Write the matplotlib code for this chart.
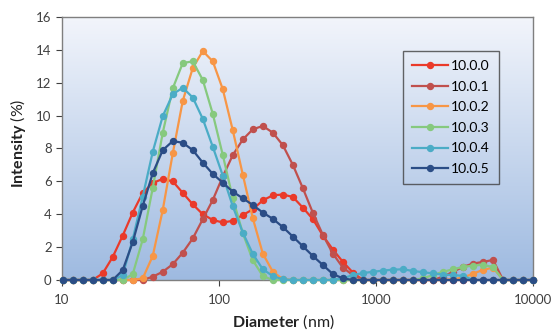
import matplotlib.pyplot as plt
import numpy as np

plt.rcParams['font.family'] = ['Lato', 'DejaVu Sans']
plt.rcParams['mathtext.fontset'] = 'custom'
plt.rcParams['mathtext.rm'] = 'Lato'
plt.rcParams['mathtext.bf'] = 'Lato:bold'

# size bins (nm)
diam = [10.1, 11.7, 13.54, 15.69, 18.17, 21.04, 24.36, 28.21, 32.67, 37.84,
        43.82, 50.75, 58.77, 68.06, 78.82, 91.28, 105.7, 122.4, 141.8, 164.2,
        190.1, 220.2, 255.0, 295.3, 342.0, 396.1, 458.7, 531.2, 615.1, 712.4,
        825.0, 955.4, 1106, 1281, 1484, 1718, 1990, 2305, 2669, 3091,
        3580, 4145, 4801, 5560, 6439, 7456, 8635, 10000]

s0 = [0, 0, 0, 0, 0.4, 1.4, 2.7, 4.1, 5.3, 5.9,
      6.15, 6.0, 5.3, 4.6, 4.0, 3.65, 3.5, 3.6, 3.95, 4.3,
      4.85, 5.15, 5.2, 5.05, 4.4, 3.7, 2.7, 1.85, 1.1, 0.45,
      0, 0, 0, 0, 0, 0, 0, 0, 0, 0,
      0, 0, 0, 0, 0, 0, 0, 0]
s1 = [0, 0, 0, 0, 0, 0, 0, 0, 0, 0.2,
      0.5, 0.96, 1.66, 2.53, 3.7, 4.87, 6.3, 7.6, 8.55, 9.17,
      9.37, 8.96, 8.2, 7.0, 5.58, 4.08, 2.74, 1.6, 0.75, 0.3,
      0, 0, 0, 0, 0, 0, 0, 0, 0.2, 0.5,
      0.8, 1.0, 1.1, 1.22, 0, 0, 0, 0]
s2 = [0, 0, 0, 0, 0, 0, 0, 0, 0.1, 1.46,
      4.26, 7.7, 10.9, 12.9, 13.93, 13.3, 11.6, 9.1, 6.4, 3.75,
      1.6, 0.5, 0.05, 0, 0, 0, 0, 0, 0, 0,
      0, 0, 0, 0, 0, 0, 0, 0, 0, 0.05,
      0.15, 0.38, 0.62, 0.75, 0, 0, 0, 0]
s3 = [0, 0, 0, 0, 0, 0, 0, 0.35, 2.47, 5.6,
      8.96, 11.66, 13.2, 13.3, 12.17, 10.1, 7.6, 4.97, 2.84, 1.2,
      0.24, 0, 0, 0, 0, 0, 0, 0, 0, 0,
      0, 0, 0, 0, 0, 0, 0.1, 0.3, 0.5, 0.65,
      0.8, 0.87, 0.93, 0.78, 0, 0, 0, 0]
s4 = [0, 0, 0, 0, 0, 0, 0.3, 2.47, 5.07, 7.8,
      9.97, 11.3, 11.7, 11.1, 9.8, 8.1, 6.35, 4.48, 2.88, 1.58,
      0.65, 0.24, 0.04, 0, 0, 0, 0, 0, 0.1, 0.3,
      0.42, 0.5, 0.57, 0.63, 0.65, 0.55, 0.47, 0.4, 0.33, 0.3,
      0.25, 0, 0, 0, 0, 0, 0, 0]
s5 = [0, 0, 0, 0, 0, 0, 0.6, 2.3, 4.5, 6.5,
      7.9, 8.45, 8.35, 7.9, 7.14, 6.45, 5.92, 5.37, 4.97, 4.56,
      4.1, 3.72, 3.22, 2.64, 2.05, 1.46, 0.91, 0.36, 0.1, 0,
      0, 0, 0, 0, 0, 0, 0, 0, 0, 0,
      0, 0, 0, 0, 0, 0, 0, 0]

labels = ['10.0.0', '10.0.1', '10.0.2', '10.0.3', '10.0.4', '10.0.5']
colors = ['#ea3a2a', '#c0504d', '#f79646', '#86c97e', '#4bacc6', '#2b4d86']

fig = plt.figure(figsize=(5.51, 3.34), dpi=100)
ax = fig.add_axes([0.1125, 0.1617, 0.855, 0.7874])

# gradient background
grad = np.linspace(0, 1, 256).reshape(-1, 1)
top = np.array([0.95, 0.96, 0.985])
bot = np.array([0.62, 0.73, 0.88])
img = top + (bot - top) * grad[:, :, None].repeat(1, axis=1)
ax.imshow(img, extent=[0, 1, 0, 1], transform=ax.transAxes, aspect='auto',
          zorder=0)

for s, lab, c in zip([s0, s1, s2, s3, s4, s5], labels, colors):
    ax.plot(diam, s, color=c, lw=1.6, marker='o', ms=4.3, label=lab, zorder=3,
            clip_on=False)

ax.set_xscale('log')
ax.set_xlim(10, 10000)
ax.set_ylim(0, 16)
ax.set_yticks(range(0, 17, 2))
ax.set_xticks([10, 100, 1000, 10000])
ax.set_xticklabels(['10', '100', '1000', '10000'])
ax.minorticks_off()
ax.tick_params(labelsize=9.5, colors='#404040', length=4, width=0.8)
ax.tick_params(axis='x', pad=6)
for sp in ax.spines.values():
    sp.set_color('#7f7f7f')
    sp.set_linewidth(1)

ax.set_xlabel(r'$\mathbf{Diameter}$ (nm)', fontsize=11.5, color='#222222')
ax.set_ylabel(r'$\mathbf{Intensity}$ (%)', fontsize=11.5, color='#222222')
ax.xaxis.set_label_coords(0.469, -0.125)
ax.yaxis.set_label_coords(-0.072, 0.52)

leg = ax.legend(loc='upper left', bbox_to_anchor=(0.724, 0.871), fontsize=10,
                frameon=True, fancybox=False, handlelength=2.6,
                labelspacing=0.62, borderpad=0.65, handletextpad=0.2,
                borderaxespad=0)
leg.get_frame().set_facecolor('none')
leg.get_frame().set_edgecolor('#404040')
leg.get_frame().set_linewidth(1)

fig.savefig('out.png', dpi=100)
